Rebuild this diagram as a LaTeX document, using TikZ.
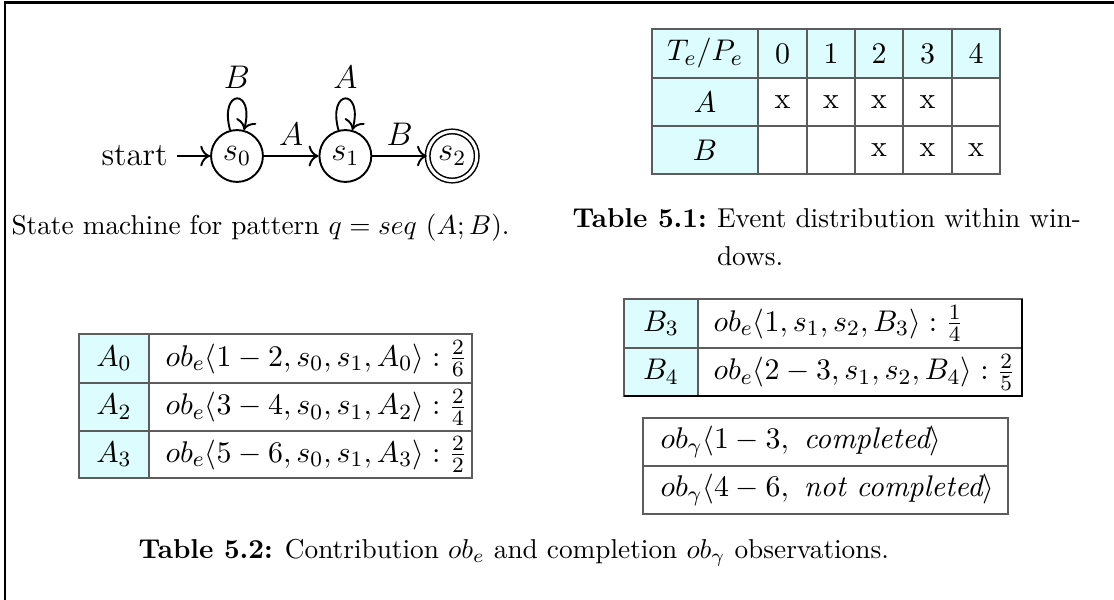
\documentclass[tikz,border=0pt]{standalone}
\usepackage{amsmath,amssymb}
\usepackage{xcolor}
\usepackage{tikz}
\usetikzlibrary{arrows.meta,positioning}
\definecolor{cellcyan}{HTML}{DCFCFD}
\definecolor{rulegray}{HTML}{5C5C5C}
\newcommand{\tabfont}{\fontsize{10.95pt}{13.6pt}\selectfont}

\begin{document}
\begin{tikzpicture}[x=0.3663pt, y=-0.3663pt, >={To[scale=1.15]},
  state/.style={circle, draw, line width=0.7pt, minimum size=19pt, inner sep=0pt, font=\large},
  final/.style={state, minimum size=18pt, double, double distance=1.1pt, line width=0.55pt},
  trans/.style={->, line width=0.7pt},
  rule/.style={rulegray, line width=0.45pt},
  cell/.style={inner sep=0pt, font=\tabfont}]
  \useasboundingbox (0,0) rectangle (1114,600);
  \draw[line width=0.9pt] (5,600) -- (5,2.5) -- (1114,2.5);

  \node[state] (s0) at (237,156) {$s_0$};
  \node[state, right=20pt of s0] (s1) {$s_1$};
  \node[final, right=20pt of s1] (s2) {$s_2$};
  \node[font=\large, left=12pt of s0] (start) {start};
  \draw[trans] (start) -- (s0);
  \draw[trans] (s0) -- node[above, font=\large] (lsa) {$A$} (s1);
  \draw[trans] (s1) -- node[above, font=\large] (lsb) {$B$} (s2);
  \draw[trans] (s0) to[loop above] node[above, font=\large] (lpb) {$B$} (s0);
  \draw[trans] (s1) to[loop above] node[above, font=\large] (lpa) {$A$} (s1);
  \node (cap1) at (260.5,228) {State machine for pattern $q = seq\ (A; B)$.};

  \fill[cellcyan] (652,29) rectangle (1000,78);
  \fill[cellcyan] (652,78) rectangle (758,174);
  \foreach \ya/\yb in {29/78,78/126,126/174}
    \foreach \xa/\xb in {652/758,758/807,807/855,855/903,903/952,952/1000}
      \draw[rule] (\xa,\ya) rectangle (\xb,\yb);
  \node[cell] (tp) at (705,53.5) {$T_e/P_e$};
  \node[cell] (ra) at (705,102) {$A$};
  \node[cell] (rb) at (705,150) {$B$};
  \foreach \xc/\hd/\ca/\cb in {782.5/0/x/{},831/1/x/{},879/2/x/x,927.5/3/x/x,976/4/{}/x} {
    \node[cell] (h\hd) at (\xc,53.5) {$\hd$};
    \node[cell] (a\hd) at (\xc,102) {\ca};
    \node[cell] (b\hd) at (\xc,150) {\cb};
  }
  \node[anchor=west, inner sep=0pt] (cap2lbl) at (572,218) {\textbf{Table 5.1:}};
  \node[anchor=north west, inner sep=0pt, align=left] (cap2txt) at ([xshift=3.33pt]cap2lbl.north east)
    {Event distribution within win-\\[2pt]dows.};

  \foreach \i/\ya/\yb/\lo/\hi/\num/\den in {0/334/383/1/2/2/6,2/383/431/3/4/2/4,3/431/478/5/6/2/2} {
    \fill[cellcyan] (79,\ya) rectangle (149,\yb);
    \draw[rule] (79,\ya) rectangle (149,\yb) (149,\ya) rectangle (472,\yb);
    \node[cell] (ea\i) at (114,{(\ya+\yb)/2}) {$A_{\i}$};
    \node[cell, anchor=west] (oa\i) at (165,{(\ya+\yb)/2})
      {$ob_e\langle \lo-\hi, s_0, s_1, A_{\i}\rangle : \frac{\num}{\den}$};
  }

  \foreach \i/\ya/\yb/\rng/\num/\den in {3/299/348/1/1/4,4/348/396/2-3/2/5} {
    \fill[cellcyan] (624,\ya) rectangle (698,\yb);
    \draw[rule] (624,\ya) rectangle (698,\yb) (698,\ya) rectangle (1022,\yb);
    \node[cell] (eb\i) at (661,{(\ya+\yb)/2}) {$B_{\i}$};
    \node[cell, anchor=west] (ob\i) at (713,{(\ya+\yb)/2})
      {$ob_e\langle \rng, s_1, s_2, B_{\i}\rangle : \frac{\num}{\den}$};
  }
  \draw[line width=0.8pt] (624,396) -- (1022,396) -- (1022,299);

  \foreach \j/\ya/\yb/\rng/\st in {1/418/466/1-3/completed,2/466/514/4-6/not completed} {
    \draw[rule] (643,\ya) rectangle (1008,\yb);
    \node[cell, anchor=west] (og\j) at (660,{(\ya+\yb)/2})
      {$ob_\gamma\langle \rng,\ \textit{\st}\rangle$};
  }

  \node[anchor=west, inner sep=0pt] (cap3) at (138,553)
    {\textbf{Table 5.2:} Contribution $ob_e$ and completion $ob_\gamma$ observations.};
\end{tikzpicture}
\end{document}
